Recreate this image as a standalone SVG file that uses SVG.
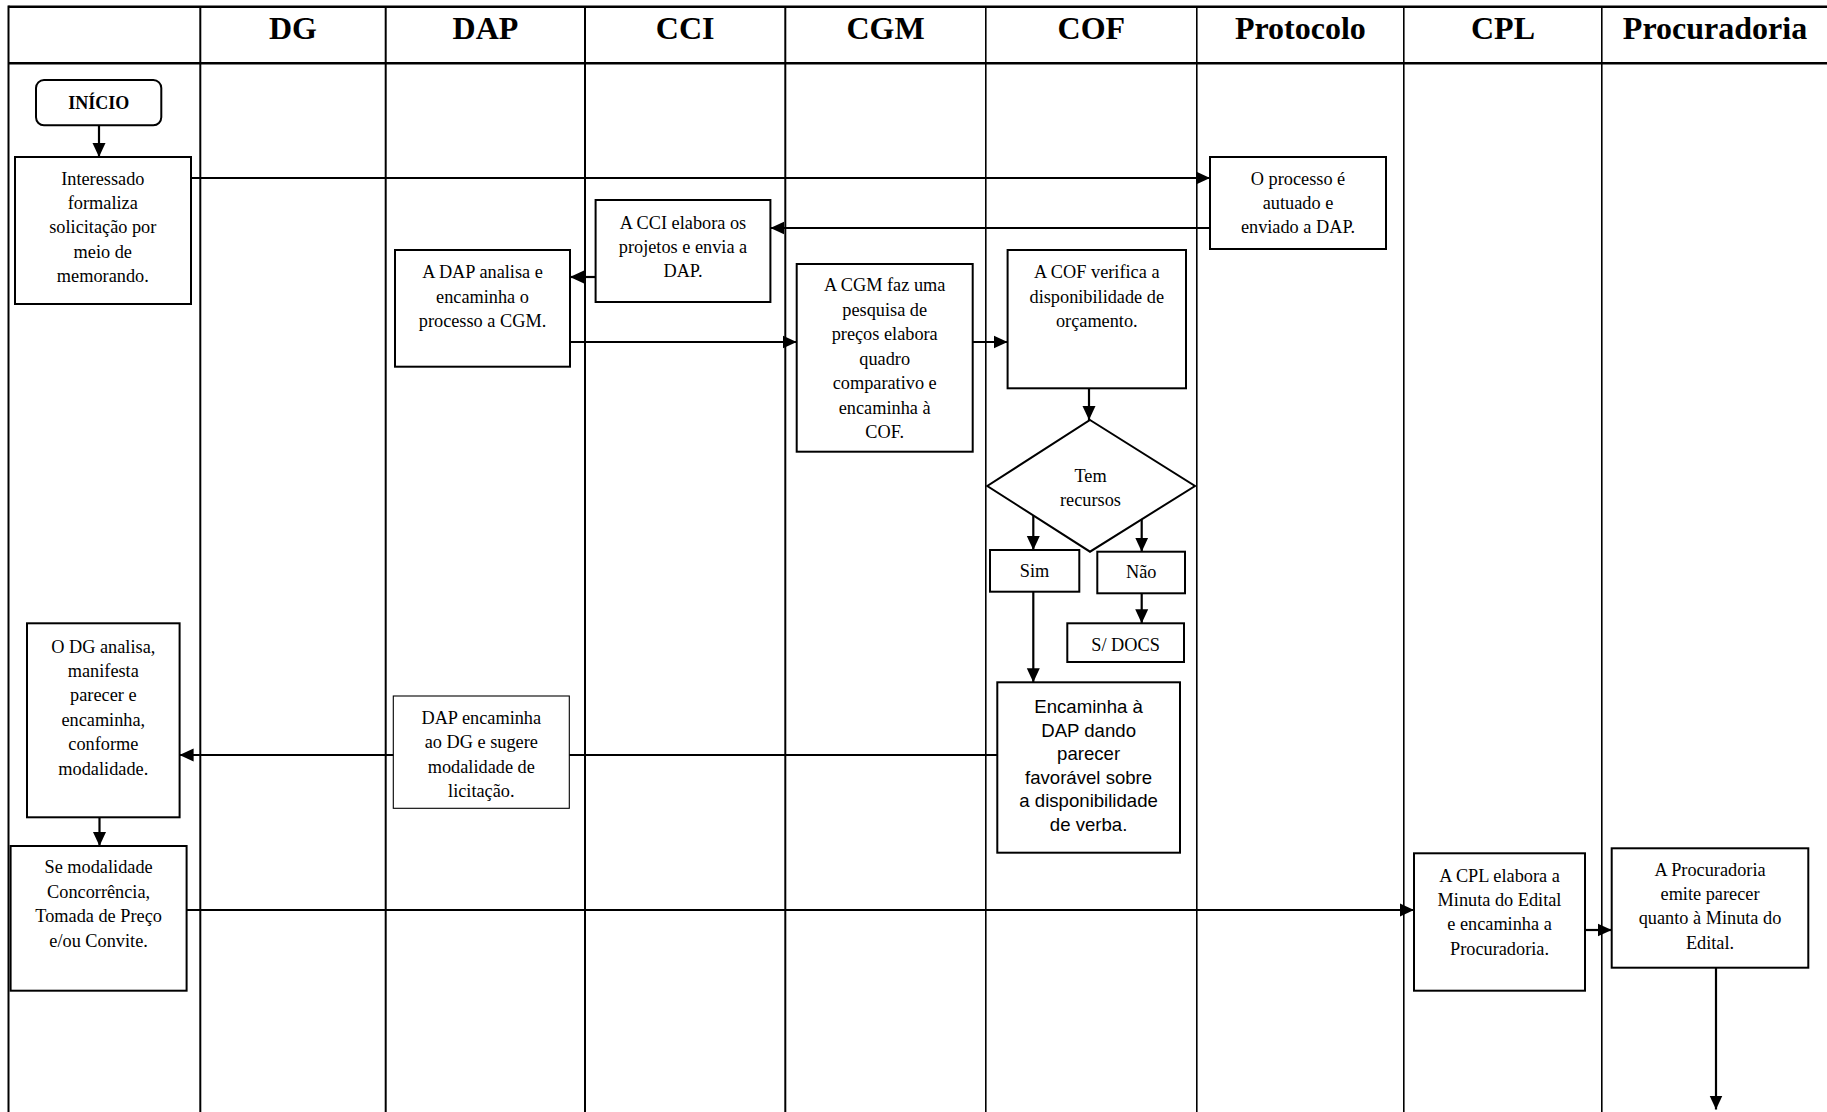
<svg xmlns="http://www.w3.org/2000/svg" width="1827" height="1112" viewBox="0 0 1827 1112">
  <style>
    .lane { stroke: #000; stroke-width: 2; fill: none; }
    .lane-thin { stroke: #000; stroke-width: 1.6; fill: none; }
    .frame { stroke: #000; stroke-width: 2.6; fill: none; }
    .box { fill: #fff; stroke: #000; stroke-width: 2; }
    .box-thin { fill: #fff; stroke: #000; stroke-width: 1.1; }
    .hdr { font-family: "Liberation Serif", "Times New Roman", serif; font-weight: bold; font-size: 32px; text-anchor: middle; fill: #000; }
    .t { font-family: "Liberation Serif", "Times New Roman", serif; font-size: 18.3px; text-anchor: middle; fill: #000; }
    .tb { font-family: "Liberation Serif", "Times New Roman", serif; font-size: 18px; font-weight: bold; text-anchor: middle; fill: #000; }
    .ts { font-family: "Liberation Sans", Arial, sans-serif; font-size: 18.6px; text-anchor: middle; fill: #000; }
    .conn { stroke: #000; stroke-width: 2.2; fill: none; marker-end: url(#arrow); }
  </style>
  <defs>
    <marker id="arrow" markerUnits="userSpaceOnUse" markerWidth="14" markerHeight="14" refX="14" refY="7" orient="auto">
      <path d="M0,0.5 L14,7 L0,13.5 z" fill="#000"/>
    </marker>
  </defs>

  <rect width="1827" height="1112" fill="#fff"/>

  <!-- swimlane grid -->
  <g id="lanes">
    <line class="frame" x1="8.5" y1="6.7" x2="1827" y2="6.7"/>
    <line class="frame" x1="8.5" y1="63.3" x2="1827" y2="63.3"/>
    <line class="lane" x1="8.5" y1="5.5" x2="8.5" y2="1112"/>
    <line class="lane" x1="200.3" y1="6" x2="200.3" y2="1112"/>
    <line class="lane" x1="385.7" y1="6" x2="385.7" y2="1112"/>
    <line class="lane" x1="585" y1="6" x2="585" y2="1112"/>
    <line class="lane" x1="785.3" y1="6" x2="785.3" y2="1112"/>
    <line class="lane-thin" x1="985.8" y1="6" x2="985.8" y2="1112"/>
    <line class="lane-thin" x1="1196.8" y1="6" x2="1196.8" y2="1112"/>
    <line class="lane-thin" x1="1403.8" y1="6" x2="1403.8" y2="1112"/>
    <line class="lane-thin" x1="1601.8" y1="6" x2="1601.8" y2="1112"/>
    <text class="hdr" x="292.9" y="38.5">DG</text>
    <text class="hdr" x="485.4" y="38.5">DAP</text>
    <text class="hdr" x="685.2" y="38.5">CCI</text>
    <text class="hdr" x="885.5" y="38.5">CGM</text>
    <text class="hdr" x="1091.3" y="38.5">COF</text>
    <text class="hdr" x="1300.4" y="38.5">Protocolo</text>
    <text class="hdr" x="1503" y="38.5">CPL</text>
    <text class="hdr" x="1715" y="38.5">Procuradoria</text>
  </g>

  <!-- connectors -->
  <g id="connectors">
    <line class="conn" x1="99" y1="125.3" x2="99" y2="157"/>
    <line class="conn" x1="191" y1="178" x2="1210" y2="178"/>
    <line class="conn" x1="1210" y1="228" x2="770.4" y2="228"/>
    <line class="conn" x1="595.6" y1="277" x2="570" y2="277"/>
    <line class="conn" x1="570" y1="342" x2="796.7" y2="342"/>
    <line class="conn" x1="972.7" y1="342" x2="1007.6" y2="342"/>
    <line class="conn" x1="1089" y1="388.3" x2="1089" y2="420"/>
    <line class="conn" x1="1033.3" y1="515" x2="1033.3" y2="550"/>
    <line class="conn" x1="1141.7" y1="511.7" x2="1141.7" y2="551.7"/>
    <line class="conn" x1="1141.7" y1="593.3" x2="1141.7" y2="623.3"/>
    <line class="conn" x1="1033.3" y1="591.7" x2="1033.3" y2="682.3"/>
    <line class="conn" x1="997.3" y1="755" x2="179.6" y2="755"/>
    <line class="conn" x1="99.5" y1="817.3" x2="99.5" y2="846"/>
    <line class="conn" x1="186.6" y1="910" x2="1414" y2="910"/>
    <line class="conn" x1="1585" y1="930" x2="1611.7" y2="930"/>
    <line class="conn" x1="1716" y1="967.7" x2="1716" y2="1109.5"/>
  </g>

  <!-- start -->
  <g id="inicio">
    <rect class="box" x="36" y="80" width="125.3" height="45.3" rx="8" ry="8"/>
    <text class="tb" x="98.7" y="109">INÍCIO</text>
  </g>

  <g id="interessado">
    <rect class="box" x="15" y="157" width="176" height="147"/>
    <text class="t" x="102.8" y="184.5">Interessado</text>
    <text class="t" x="102.8" y="208.9">formaliza</text>
    <text class="t" x="102.8" y="233.3">solicitação por</text>
    <text class="t" x="102.8" y="257.7">meio de</text>
    <text class="t" x="102.8" y="282.1">memorando.</text>
  </g>

  <g id="protocolo">
    <rect class="box" x="1210" y="157" width="176" height="92"/>
    <text class="t" x="1298" y="184.5">O processo é</text>
    <text class="t" x="1298" y="208.9">autuado e</text>
    <text class="t" x="1298" y="233.3">enviado a DAP.</text>
  </g>

  <g id="cci">
    <rect class="box" x="595.6" y="200" width="174.8" height="102"/>
    <text class="t" x="683" y="228.5">A CCI elabora os</text>
    <text class="t" x="683" y="252.9">projetos e envia a</text>
    <text class="t" x="683" y="277.3">DAP.</text>
  </g>

  <g id="dap-analisa">
    <rect class="box" x="395" y="250" width="175" height="116.7"/>
    <text class="t" x="482.5" y="278.3">A DAP analisa e</text>
    <text class="t" x="482.5" y="302.7">encaminha o</text>
    <text class="t" x="482.5" y="327.1">processo a CGM.</text>
  </g>

  <g id="cgm">
    <rect class="box" x="796.7" y="264" width="176" height="187.7"/>
    <text class="t" x="884.7" y="291">A CGM faz uma</text>
    <text class="t" x="884.7" y="315.5">pesquisa de</text>
    <text class="t" x="884.7" y="340">preços elabora</text>
    <text class="t" x="884.7" y="364.5">quadro</text>
    <text class="t" x="884.7" y="389">comparativo e</text>
    <text class="t" x="884.7" y="413.5">encaminha à</text>
    <text class="t" x="884.7" y="438">COF.</text>
  </g>

  <g id="cof">
    <rect class="box" x="1007.6" y="250" width="178.4" height="138.3"/>
    <text class="t" x="1096.8" y="278.3">A COF verifica a</text>
    <text class="t" x="1096.8" y="302.7">disponibilidade de</text>
    <text class="t" x="1096.8" y="327.1">orçamento.</text>
  </g>

  <g id="decisao">
    <polygon class="box" points="1090,420 1195,486 1090,551.7 987.3,486"/>
    <text class="t" x="1090.5" y="481.5">Tem</text>
    <text class="t" x="1090.5" y="505.5">recursos</text>
  </g>

  <g id="sim">
    <rect class="box" x="990" y="550" width="89.3" height="41.7"/>
    <text class="t" x="1034.5" y="576.5">Sim</text>
  </g>

  <g id="nao">
    <rect class="box" x="1097.3" y="551.7" width="87.7" height="41.6"/>
    <text class="t" x="1141.2" y="578.3">Não</text>
  </g>

  <g id="sem-docs">
    <rect class="box" x="1067.3" y="623.3" width="116.7" height="38.7"/>
    <text class="t" x="1125.6" y="650.8">S/ DOCS</text>
  </g>

  <g id="cof-encaminha">
    <rect class="box" x="997.3" y="682.3" width="182.7" height="170.4"/>
    <text class="ts" x="1088.6" y="713">Encaminha à</text>
    <text class="ts" x="1088.6" y="736.5">DAP dando</text>
    <text class="ts" x="1088.6" y="760">parecer</text>
    <text class="ts" x="1088.6" y="783.5">favorável sobre</text>
    <text class="ts" x="1088.6" y="807">a disponibilidade</text>
    <text class="ts" x="1088.6" y="830.5">de verba.</text>
  </g>

  <g id="dap-encaminha">
    <rect class="box-thin" x="393.3" y="696" width="176" height="112.3"/>
    <text class="t" x="481.3" y="724">DAP encaminha</text>
    <text class="t" x="481.3" y="748.4">ao DG e sugere</text>
    <text class="t" x="481.3" y="772.8">modalidade de</text>
    <text class="t" x="481.3" y="797.2">licitação.</text>
  </g>

  <g id="dg-analisa">
    <rect class="box" x="27" y="623.3" width="152.6" height="194"/>
    <text class="t" x="103.3" y="652.5">O DG analisa,</text>
    <text class="t" x="103.3" y="676.9">manifesta</text>
    <text class="t" x="103.3" y="701.3">parecer e</text>
    <text class="t" x="103.3" y="725.7">encaminha,</text>
    <text class="t" x="103.3" y="750.1">conforme</text>
    <text class="t" x="103.3" y="774.5">modalidade.</text>
  </g>

  <g id="modalidade">
    <rect class="box" x="10.6" y="846" width="176" height="144.7"/>
    <text class="t" x="98.6" y="873.3">Se modalidade</text>
    <text class="t" x="98.6" y="897.7">Concorrência,</text>
    <text class="t" x="98.6" y="922.1">Tomada de Preço</text>
    <text class="t" x="98.6" y="946.5">e/ou Convite.</text>
  </g>

  <g id="cpl">
    <rect class="box" x="1414" y="853.3" width="171" height="137.4"/>
    <text class="t" x="1499.5" y="881.5">A CPL elabora a</text>
    <text class="t" x="1499.5" y="905.9">Minuta do Edital</text>
    <text class="t" x="1499.5" y="930.3">e encaminha a</text>
    <text class="t" x="1499.5" y="954.7">Procuradoria.</text>
  </g>

  <g id="procuradoria">
    <rect class="box" x="1611.7" y="848.3" width="196.6" height="119.4"/>
    <text class="t" x="1710" y="875.5">A Procuradoria</text>
    <text class="t" x="1710" y="899.9">emite parecer</text>
    <text class="t" x="1710" y="924.3">quanto à Minuta do</text>
    <text class="t" x="1710" y="948.7">Edital.</text>
  </g>
</svg>
